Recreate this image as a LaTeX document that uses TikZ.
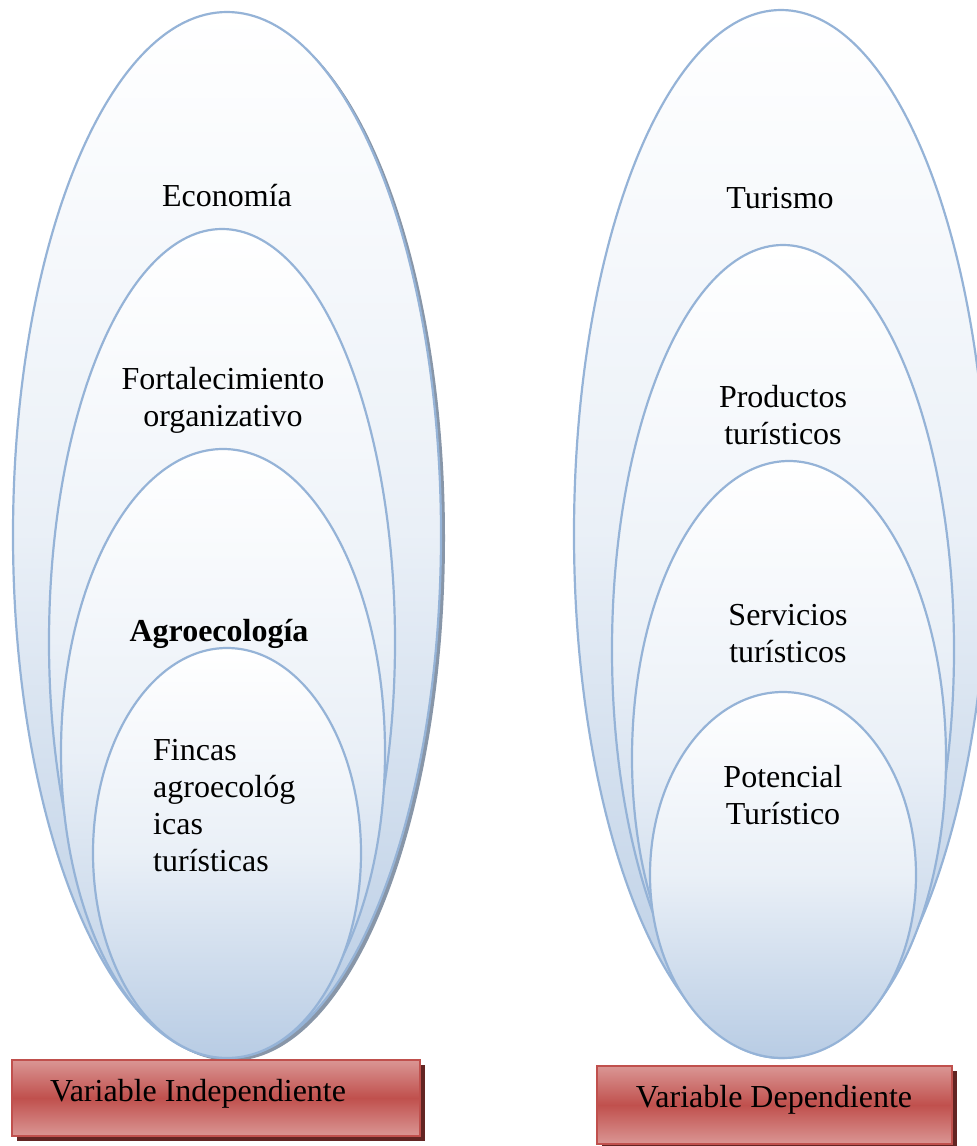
\documentclass[tikz,border=0pt]{standalone}
\usepackage{fontspec}
\setmainfont{Liberation Serif}
\usetikzlibrary{shadows}

\definecolor{ellline}{RGB}{149,179,215}
\definecolor{ellfill}{RGB}{184,204,228}
\definecolor{ellshadow}{RGB}{136,150,168}
\definecolor{boxred}{RGB}{192,80,77}
\definecolor{boxpink}{RGB}{218,150,148}
\definecolor{boxshadow}{RGB}{99,37,35}

\begin{document}
\begin{tikzpicture}[x=1pt,y=-1pt,
	ell/.style={draw=ellline, line width=2.2pt, top color=white, bottom color=ellfill, middle color=ellfill!30!white},
	lbl/.style={font=\fontsize{32}{37}\selectfont, inner sep=0pt, align=center},
	varbox/.style={draw=boxred, line width=1.5pt, top color=boxpink, bottom color=boxpink, middle color=boxred,
		drop shadow={shadow xshift=5pt, shadow yshift=-5pt, fill=boxshadow, opacity=1}}]
		\useasboundingbox (0,0) rectangle (977,1146);
		\clip (0,0) rectangle (977,1146);
		
		% independiente
		\fill[ellshadow] (231,538) ellipse [x radius=214, y radius=523];
		\path[ell] (227,535) ellipse [x radius=214, y radius=523];
		\path[ell] (222,642) ellipse [x radius=173, y radius=413];
		\path[ell] (223,752) ellipse [x radius=162, y radius=303];
		\path[ell] (227,853) ellipse [x radius=134, y radius=205];
		
		\node[lbl] (eco) at (227,196) {Economía};
		\node[lbl] (fort) at (223,400) {Fortalecimiento\\organizativo};
		\node[lbl, font=\fontsize{32}{37}\selectfont\bfseries] (agro) at (219,634) {Agroecología};
		\node[lbl, align=left, anchor=west] (fincas) at (153,806) {Fincas\\agroecológ\\icas\\turísticas};
		
		% dependiente
		\path[ell] (781,534) ellipse [x radius=207, y radius=524];
		\path[ell] (783,650) ellipse [x radius=171, y radius=405];
		\path[ell] (789,758) ellipse [x radius=157, y radius=297];
		\path[ell] (783,875) ellipse [x radius=133, y radius=183];
		
		\node[lbl] (tur) at (780,198) {Turismo};
		\node[lbl] (prod) at (783,415) {Productos\\turísticos};
		\node[lbl] (serv) at (788,634) {Servicios\\turísticos};
		\node[lbl] (pot) at (783,795) {Potencial\\Turístico};
		
		\node[varbox, minimum width=408pt, minimum height=76pt] (indep) at (216,1098) {};
		\node[lbl, anchor=west] (indeptxt) at (50,1094) {Variable Independiente};
		\node[varbox, minimum width=355pt, minimum height=78pt] (dep) at (774.5,1105) {};
		\node[lbl] (deptxt) at (774,1100) {Variable Dependiente};
	\end{tikzpicture}
\end{document}
